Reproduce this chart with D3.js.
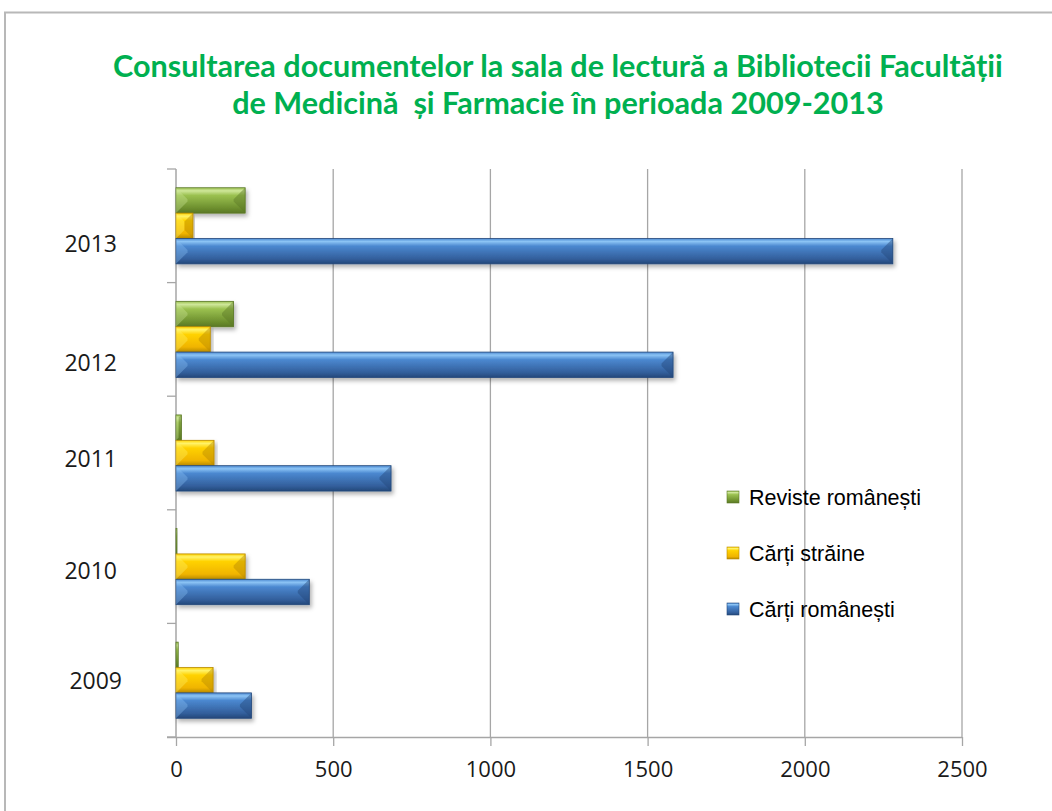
<!DOCTYPE html>
<html>
<head>
<meta charset="utf-8">
<script src="https://cdn.jsdelivr.net/npm/d3@7"></script>
<style>
  body { margin: 0; background: #fff; }
  svg { display: block; }
</style>
</head>
<body>
<div id="chart"></div>
<script>
// data
const years = ["2009", "2010", "2011", "2012", "2013"];
const series = ["Reviste românești", "Cărți străine", "Cărți românești"];
const revisteRomanesti = [7, 3, 17, 183, 220];
const cartiStraine = [118, 220, 121, 109, 54];
const cartiRomanesti = [240, 424, 684, 1581, 2280];
const xTicks = [0, 500, 1000, 1500, 2000, 2500];
// Excel put the year labels a little off the band centre
const labelShift = [1, 4, 6, 23, 18];

const W = 1052, H = 811;
const plotLeft = 176, plotRight = 962, plotTop = 169, plotBottom = 737;

const svg = d3.select("#chart").append("svg")
  .attr("width", W)
  .attr("height", H);

// chart frame
svg.append("rect")
  .attr("x", 5).attr("y", 12.5)
  .attr("width", W + 20).attr("height", H + 20)
  .attr("fill", "#fff")
  .attr("stroke", "#b8b8b8")
  .attr("stroke-width", 2);

const defs = svg.append("defs");

const colors = {
  "Reviste românești": { top: "#cfe79a", mid: "#9bc150", bot: "#6d8f2e", edge: "#5a7826" },
  "Cărți străine": { top: "#fff36a", mid: "#ffd200", bot: "#f0b400", edge: "#b88a00" },
  "Cărți românești": { top: "#8cc4f5", mid: "#4b88d0", bot: "#335f9c", edge: "#24487a" }
};

series.forEach((s, i) => {
  const g = defs.append("linearGradient")
    .attr("id", "grad" + i)
    .attr("x1", 0).attr("y1", 0).attr("x2", 0).attr("y2", 1);
  g.append("stop").attr("offset", "0%").attr("stop-color", colors[s].mid);
  g.append("stop").attr("offset", "12%").attr("stop-color", colors[s].top);
  g.append("stop").attr("offset", "30%").attr("stop-color", colors[s].mid);
  g.append("stop").attr("offset", "80%").attr("stop-color", colors[s].bot);
  g.append("stop").attr("offset", "100%").attr("stop-color", colors[s].edge);
});

const shadow = defs.append("filter")
  .attr("id", "shadow")
  .attr("x", "-5%").attr("y", "-20%")
  .attr("width", "115%").attr("height", "160%");
shadow.append("feDropShadow")
  .attr("dx", 2).attr("dy", 3)
  .attr("stdDeviation", 2)
  .attr("flood-color", "#000")
  .attr("flood-opacity", 0.3);

// title
const titleLines = [
  "Consultarea documentelor la sala de lectură a Bibliotecii Facultății",
  "de Medicină  și Farmacie în perioada 2009-2013"
];
const title = svg.append("text")
  .attr("text-anchor", "middle")
  .attr("fill", "#00b050")
  .attr("font-family", "Lato, 'Noto Sans', sans-serif")
  .attr("font-weight", "bold")
  .attr("font-size", 26)
  .style("white-space", "pre");
title.selectAll("tspan")
  .data(titleLines)
  .join("tspan")
  .attr("x", 558)
  .attr("y", (d, i) => 77 + i * 37)
  .text(d => d);
// fit first line to the width seen in the picture
const firstW = title.select("tspan").node().getComputedTextLength();
title.attr("font-size", 26 * 890 / firstW);

const x = d3.scaleLinear().domain([0, 2500]).range([plotLeft, plotRight]);

const y = d3.scaleBand()
  .domain(years.slice().reverse())
  .range([plotTop, plotBottom])
  .paddingInner(0.33)
  .paddingOuter(0.165);

const ySub = d3.scaleBand()
  .domain(series)
  .range([0, y.bandwidth()]);

const step = y.step();
const yBoundaries = d3.range(years.length + 1).map(i => plotTop + i * step);

// vertical gridlines
svg.append("g")
  .selectAll("line")
  .data(xTicks.slice(1))
  .join("line")
  .attr("x1", d => x(d)).attr("x2", d => x(d))
  .attr("y1", plotTop).attr("y2", plotBottom)
  .attr("stroke", "#a6a6a6")
  .attr("stroke-width", 1.3);

// x axis
const xAxis = svg.append("g")
  .attr("transform", `translate(0,${plotBottom})`)
  .call(d3.axisBottom(x).tickValues(xTicks).tickFormat(d3.format("d"))
    .tickSize(9).tickPadding(15).tickSizeOuter(0));
xAxis.select(".domain").attr("stroke", "#a6a6a6").attr("stroke-width", 1.5)
  .attr("d", `M${plotLeft - 9},0.5H${plotRight}`);
xAxis.selectAll(".tick line").attr("stroke", "#a6a6a6").attr("stroke-width", 1.3);
xAxis.selectAll(".tick text")
  .attr("fill", "#1a1a1a")
  .attr("font-family", "'Open Sans', sans-serif")
  .attr("font-size", 22);

// y axis line and band boundary ticks
const yAxis = svg.append("g");
yAxis.append("line")
  .attr("x1", plotLeft).attr("x2", plotLeft)
  .attr("y1", plotTop).attr("y2", plotBottom)
  .attr("stroke", "#a6a6a6").attr("stroke-width", 1.5);
yAxis.selectAll("line.tk")
  .data(yBoundaries)
  .join("line")
  .attr("class", "tk")
  .attr("x1", plotLeft - 9).attr("x2", plotLeft)
  .attr("y1", d => d).attr("y2", d => d)
  .attr("stroke", "#a6a6a6").attr("stroke-width", 1.3);
yAxis.selectAll("text")
  .data(years)
  .join("text")
  .attr("x", (d, i) => i === 0 ? 122 : 117)
  .attr("y", (d, i) => y(d) + y.bandwidth() / 2 + labelShift[i])
  .attr("dy", "0.36em")
  .attr("text-anchor", "end")
  .attr("fill", "#1a1a1a")
  .attr("font-family", "'Open Sans', sans-serif")
  .attr("font-size", 23)
  .text(d => d);

// bars
const valuesBySeries = {
  "Reviste românești": revisteRomanesti,
  "Cărți străine": cartiStraine,
  "Cărți românești": cartiRomanesti
};

const groups = svg.append("g")
  .selectAll("g")
  .data(years)
  .join("g")
  .attr("transform", d => `translate(0,${y(d)})`);

groups.selectAll("g.bar")
  .data((yr, yi) => series.map((s, si) => ({ s, si, v: valuesBySeries[s][yi] })))
  .join("g")
  .attr("class", "bar")
  .each(function (d) {
    const g = d3.select(this);
    const x0 = x(0), x1 = x(d.v);
    const y0 = ySub(d.s), h = ySub.bandwidth();
    const w = x1 - x0;
    g.append("rect")
      .attr("x", x0).attr("y", y0)
      .attr("width", w).attr("height", h)
      .attr("fill", `url(#grad${d.si})`)
      .attr("stroke", colors[d.s].edge)
      .attr("stroke-width", 0.8)
      .attr("filter", "url(#shadow)");
    // bevel at the ends
    const b = Math.min(h / 2.2, w / 2);
    if (w > 3) {
      g.append("path")
        .attr("d", `M${x0},${y0}L${x0 + b},${y0 + b}L${x0 + b},${y0 + h - b}L${x0},${y0 + h}Z`)
        .attr("fill", colors[d.s].top).attr("opacity", 0.35);
      g.append("path")
        .attr("d", `M${x1},${y0}L${x1 - b},${y0 + b}L${x1 - b},${y0 + h - b}L${x1},${y0 + h}Z`)
        .attr("fill", colors[d.s].edge).attr("opacity", 0.45);
    }
  });

// legend
const legend = svg.append("g")
  .selectAll("g")
  .data(series)
  .join("g")
  .attr("transform", (d, i) => `translate(727,${497 + i * 56})`);
legend.append("rect")
  .attr("x", 0).attr("y", -6)
  .attr("width", 12).attr("height", 12)
  .attr("fill", (d, i) => `url(#grad${i})`)
  .attr("stroke", d => colors[d].edge)
  .attr("stroke-width", 0.6);
legend.append("text")
  .attr("x", 22)
  .attr("dy", "0.36em")
  .attr("fill", "#000")
  .attr("font-family", "'Liberation Sans', Arial, sans-serif")
  .attr("font-size", 21.5)
  .text(d => d);
</script>
</body>
</html>
